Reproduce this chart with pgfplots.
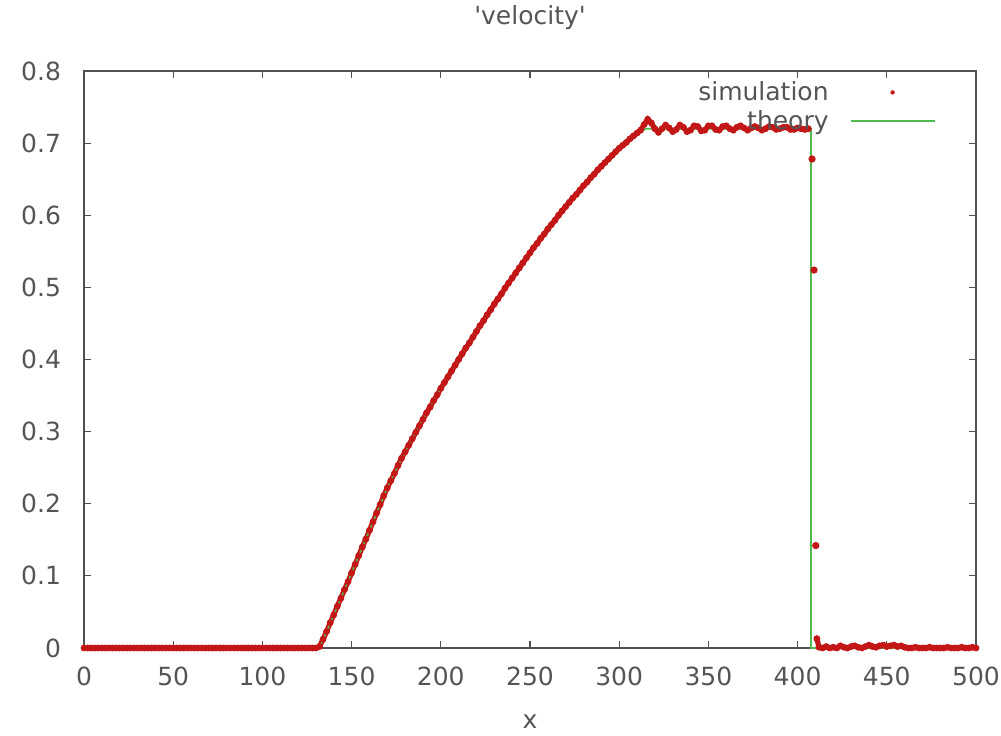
\documentclass[border=0pt]{standalone}
\usepackage{pgfplots}
\pgfplotsset{compat=1.18}
\usepackage{fontspec}
\setmainfont{DejaVu Sans}
\definecolor{simred}{RGB}{195,22,22}
\definecolor{thgreen}{RGB}{80,185,80}
\definecolor{axgray}{RGB}{80,80,80}
\definecolor{txgray}{RGB}{85,85,85}
\newcommand{\fnt}{\fontsize{12.5}{15}\selectfont}
\pgfplotstableread{
x y
0 0
2 0
4 0
6 0
8 0
10 0
12 0
14 0
16 0
18 0
20 0
22 0
24 0
26 0
28 0
30 0
32 0
34 0
36 0
38 0
40 0
42 0
44 0
46 0
48 0
50 0
52 0
54 0
56 0
58 0
60 0
62 0
64 0
66 0
68 0
70 0
72 0
74 0
76 0
78 0
80 0
82 0
84 0
86 0
88 0
90 0
92 0
94 0
96 0
98 0
100 0
102 0
104 0
106 0
108 0
110 0
112 0
114 0
116 0
118 0
120 0
122 0
124 0
126 0
128 0
130 0
132 0.002
134 0.012
136 0.023
138 0.035
140 0.046
142 0.058
144 0.069
146 0.081
148 0.092
150 0.104
152 0.116
154 0.128
156 0.140
158 0.151
160 0.163
162 0.175
164 0.187
166 0.199
168 0.211
170 0.222
172 0.232
174 0.242
176 0.253
178 0.263
180 0.272
182 0.281
184 0.290
186 0.299
188 0.308
190 0.317
192 0.326
194 0.334
196 0.343
198 0.351
200 0.360
202 0.368
204 0.376
206 0.384
208 0.392
210 0.400
212 0.408
214 0.416
216 0.423
218 0.431
220 0.439
222 0.447
224 0.454
226 0.462
228 0.469
230 0.477
232 0.484
234 0.491
236 0.499
238 0.506
240 0.513
242 0.520
244 0.527
246 0.534
248 0.541
250 0.548
252 0.555
254 0.561
256 0.568
258 0.574
260 0.581
262 0.587
264 0.593
266 0.600
268 0.606
270 0.612
272 0.618
274 0.624
276 0.629
278 0.635
280 0.641
282 0.646
284 0.652
286 0.657
288 0.663
290 0.668
292 0.673
294 0.678
296 0.683
298 0.688
300 0.693
302 0.697
304 0.701
306 0.706
308 0.710
310 0.714
312 0.718
314 0.726
316 0.733
318 0.728
320 0.720
322 0.715
324 0.720
326 0.725
328 0.721
330 0.716
332 0.719
334 0.725
336 0.722
338 0.716
340 0.718
342 0.724
344 0.723
346 0.717
348 0.718
350 0.724
352 0.724
354 0.719
356 0.718
358 0.723
360 0.724
362 0.720
364 0.718
366 0.722
368 0.724
370 0.721
372 0.718
374 0.721
376 0.723
378 0.721
380 0.718
382 0.720
384 0.723
386 0.722
388 0.719
390 0.720
392 0.722
394 0.722
396 0.719
398 0.719
400 0.721
402 0.720
404 0.719
406 0.720
}\simA
\pgfplotstableread{
x y
408.1 0.678
409.2 0.524
410.2 0.142
}\simB
\pgfplotstableread{
x y
410.8 0.013
412 0.001
414 0
416 0.002
418 0
420 0.001
422 0
424 0.003
426 0.001
428 0
430 0.002
432 0.003
434 0.001
436 0
438 0.002
440 0.004
442 0.002
444 0.001
446 0.003
448 0.004
450 0.002
452 0.003
454 0.004
456 0.002
458 0.003
460 0.001
462 0
464 0
466 0.001
468 0
470 0
472 0
474 0.001
476 0
478 0
480 0
482 0
484 0.001
486 0
488 0
490 0
492 0.001
494 0
496 0
498 0.001
500 0
}\simC
\begin{document}
\begin{tikzpicture}
\path[use as bounding box] (-42pt,-43.5pt) rectangle (458.5pt,324pt);
\begin{axis}[
  scale only axis, width=446pt, height=288.5pt,
  xmin=0, xmax=500, ymin=0, ymax=0.8,
  xtick={0,50,100,150,200,250,300,350,400,450,500},
  xticklabels={0,50,100,150,200,250,300,350,400,450,500},
  ytick={0,0.1,0.2,0.3,0.4,0.5,0.6,0.7,0.8},
  yticklabels={0,0.1,0.2,0.3,0.4,0.5,0.6,0.7,0.8},
  /pgf/number format/assume math mode=true,
  tick align=inside, major tick length=3.5pt,
  tick style={draw=axgray, line width=0.6pt},
  axis line style={draw=axgray, line width=0.8pt},
  tick label style={font=\fnt, text=txgray},
  yticklabel style={xshift=-8pt},
  xticklabel style={yshift=-6pt},
  xlabel={x},
  x label style={at={(axis description cs:0.5,0)}, anchor=center, yshift=-37pt, font=\fnt, text=txgray},
  title={\textquotesingle velocity\textquotesingle},
  title style={at={(axis description cs:0.5,1)}, anchor=center, yshift=20.5pt, font=\fnt, text=txgray},
  legend plot pos=right, legend cell align=right,
  legend style={draw=none, fill=none, font=\fnt, text=txgray,
    at={(axis description cs:1,1)}, anchor=north east, xshift=-17pt, yshift=-1pt,
    row sep=-0.5pt},
]
\addplot[color=simred, line width=2.6pt, mark=*, mark size=1.5pt,
  mark options={line width=0.4pt},
  legend image code/.code={\path[draw=none] (0pt,0pt) -- (51pt,0pt); \fill[simred, draw=none, line width=0pt] (30pt,0pt) circle (1.1pt);}]
  table[x=x,y=y] {\simA};
\addlegendentry{simulation}
\addplot[color=thgreen, line width=0.8pt, mark=none,
  legend image code/.code={\path[draw=none] (0pt,0pt) -- (9pt,0pt); \draw[draw=thgreen, line width=1pt] (9pt,0pt) -- (51pt,0pt);}]
coordinates {
(0,0)(132,0)(136,0.023)(140,0.046)(150,0.104)(160,0.163)(170,0.222)(180,0.272)(190,0.317)
(200,0.360)(210,0.400)(220,0.439)(230,0.477)(240,0.513)(250,0.548)(260,0.581)(270,0.612)
(280,0.641)(290,0.668)(300,0.693)(310,0.713)(315,0.720)(407.5,0.720)(407.5,0)(500,0)
};
\addlegendentry{theory}
\addplot[only marks, color=simred, mark=*, mark size=1.6pt, forget plot] table[x=x,y=y] {\simB};
\addplot[color=simred, line width=2.6pt, mark=*, mark size=1.5pt, mark options={line width=0.4pt}, forget plot] table[x=x,y=y] {\simC};
\end{axis}
\end{tikzpicture}
\end{document}
